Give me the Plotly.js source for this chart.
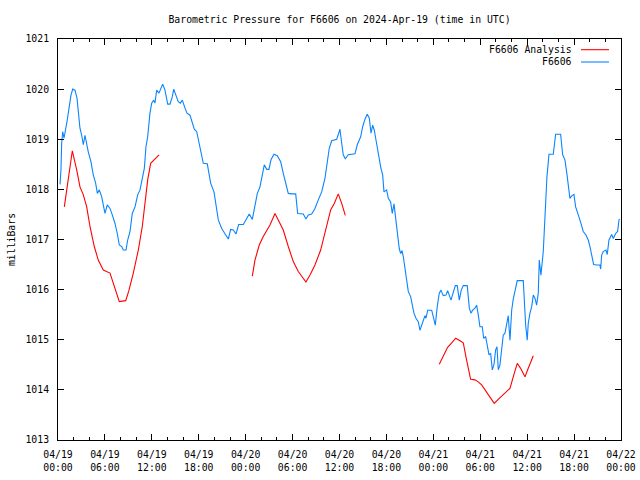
<!DOCTYPE html>
<html>
<head>
<meta charset="utf-8">
<script src="https://cdn.plot.ly/plotly-3.0.1.min.js"></script>
<style>html,body{margin:0;padding:0;background:#fff;}#chart{width:640px;height:480px;}</style>
</head>
<body>
<div id="chart"></div>
<script>
// Hours since 2024-04-19 00:00 UTC
const obsHours = [0.26,0.38,0.47,0.60,0.77,0.90,1.15,1.41,1.66,1.88,2.17,2.43,2.60,2.81,3.03,3.24,3.45,3.67,3.87,4.22,4.51,4.82,5.03,5.28,5.59,5.79,6.01,6.30,6.65,6.94,7.29,7.58,7.84,8.15,8.35,8.70,8.91,9.21,9.50,9.85,10.19,10.49,10.78,11.04,11.25,11.47,11.76,11.98,12.24,12.40,12.62,12.92,13.17,13.39,13.68,14.03,14.32,14.62,14.80,15.05,15.38,15.64,15.90,16.24,16.50,16.88,17.17,17.43,17.74,17.94,18.25,18.58,19.09,19.53,19.95,20.20,20.50,20.93,21.36,21.78,22.08,22.42,22.76,23.11,23.70,24.13,24.46,24.85,25.19,25.49,25.83,26.18,26.38,26.69,26.98,27.24,27.62,28.04,28.48,28.81,29.16,29.45,29.88,30.40,30.65,31.37,31.71,32.01,32.44,32.86,33.29,33.72,34.14,34.44,34.69,35.00,35.64,35.90,36.06,36.28,36.48,36.74,37.12,37.98,38.27,38.71,38.96,39.26,39.55,39.81,40.03,40.24,40.45,40.66,40.88,41.09,41.30,41.52,41.69,42.03,42.24,42.54,42.75,42.97,43.18,43.39,43.64,43.82,43.99,44.16,44.37,44.59,44.80,45.10,45.36,45.52,45.78,46.07,46.29,46.64,46.93,47.06,47.28,47.79,47.99,48.25,48.50,48.76,48.98,49.27,49.62,49.83,50.26,50.55,50.81,51.06,51.32,51.57,51.83,52.34,52.60,52.81,53.03,53.32,53.54,53.75,53.96,54.26,54.44,54.69,54.95,55.12,55.33,55.54,55.75,55.97,56.14,56.31,56.52,56.74,56.94,57.16,57.38,57.58,57.80,58.02,58.22,58.44,58.73,59.50,59.63,59.81,60.01,60.14,60.36,60.58,60.78,61.00,61.21,61.42,61.55,61.76,62.06,62.19,62.37,62.53,62.79,63.34,63.64,64.28,64.54,64.83,65.05,65.26,65.47,65.69,65.98,66.20,66.41,66.62,66.88,67.17,67.52,67.81,68.03,68.25,68.50,68.89,69.31,69.40,69.53,69.73,70.08,70.24,70.46,70.81,71.01,71.32,71.57,71.74,71.83];
const obsPressure = [1018.10,1018.39,1018.92,1019.15,1019.02,1019.12,1019.35,1019.62,1019.88,1020.00,1019.98,1019.82,1019.58,1019.22,1019.08,1018.89,1019.08,1018.89,1018.75,1018.55,1018.29,1018.12,1017.92,1017.99,1017.85,1017.69,1017.52,1017.69,1017.62,1017.49,1017.32,1017.12,1016.89,1016.86,1016.79,1016.79,1016.99,1017.16,1017.52,1017.65,1017.89,1017.99,1018.19,1018.42,1018.85,1019.05,1019.52,1019.72,1019.78,1019.72,1019.98,1019.92,1020.02,1020.10,1019.98,1019.70,1019.70,1019.85,1020.00,1019.90,1019.75,1019.72,1019.78,1019.62,1019.52,1019.48,1019.35,1019.20,1019.15,1019.00,1018.75,1018.52,1018.51,1018.12,1017.95,1017.65,1017.39,1017.22,1017.12,1017.01,1017.20,1017.19,1017.11,1017.30,1017.30,1017.42,1017.51,1017.40,1017.69,1017.92,1018.05,1018.32,1018.49,1018.40,1018.40,1018.59,1018.70,1018.67,1018.55,1018.32,1018.12,1017.92,1017.91,1017.91,1017.52,1017.51,1017.41,1017.49,1017.51,1017.62,1017.79,1017.95,1018.22,1018.52,1018.82,1018.97,1019.00,1019.12,1019.20,1018.92,1018.69,1018.61,1018.69,1018.71,1018.89,1019.05,1019.25,1019.40,1019.50,1019.42,1019.12,1019.28,1019.18,1018.99,1018.79,1018.55,1018.42,1018.29,1017.95,1017.99,1017.82,1017.75,1017.52,1017.71,1017.42,1017.09,1016.82,1016.72,1016.78,1016.66,1016.43,1016.16,1015.96,1015.86,1015.69,1015.53,1015.43,1015.36,1015.19,1015.33,1015.48,1015.43,1015.59,1015.59,1015.43,1015.29,1015.66,1015.93,1015.99,1015.88,1015.89,1015.98,1015.79,1015.96,1016.08,1016.08,1015.79,1015.99,1016.08,1016.08,1015.63,1015.53,1015.59,1015.63,1015.69,1015.49,1015.26,1015.26,1015.03,1015.06,1014.80,1014.70,1014.73,1014.40,1014.50,1014.80,1014.86,1014.40,1014.50,1014.90,1015.09,1015.13,1015.29,1015.48,1014.99,1015.59,1015.81,1015.99,1016.18,1016.18,1015.76,1015.29,1014.99,1015.33,1015.53,1015.66,1015.89,1015.83,1015.69,1015.93,1016.59,1016.29,1016.76,1017.12,1017.72,1018.25,1018.70,1018.70,1019.10,1019.10,1018.69,1018.59,1018.35,1018.12,1017.82,1017.87,1017.90,1017.65,1017.52,1017.45,1017.32,1017.16,1017.09,1016.99,1016.86,1016.72,1016.50,1016.49,1016.49,1016.41,1016.69,1016.76,1016.79,1016.70,1016.99,1017.10,1017.02,1017.12,1017.16,1017.39,1017.41];

// Analysis series (null = gap between runs)
const anaHours = [0.81,1.11,1.41,1.83,2.39,2.81,3.24,3.67,4.09,4.64,5.15,5.79,6.65,7.07,7.51,7.84,8.66,9.08,9.63,10.27,10.78,11.13,11.47,11.85,12.40,12.92,
  18.0,
  24.85,25.19,25.74,26.25,27.11,27.75,28.17,28.81,29.45,30.09,30.73,31.71,32.23,32.86,33.59,34.27,34.87,35.33,35.84,36.28,36.74,
  42.0,
  48.76,49.27,49.83,50.35,50.86,51.41,51.83,52.17,52.47,52.77,53.32,53.75,54.18,54.82,55.24,55.79,56.43,57.16,57.80,58.22,58.73,59.16,59.72,60.14,60.78];
const anaPressure = [1017.65,1017.99,1018.32,1018.77,1018.39,1018.05,1017.89,1017.65,1017.26,1016.86,1016.59,1016.39,1016.33,1016.13,1015.93,1015.76,1015.78,1015.99,1016.33,1016.79,1017.26,1017.72,1018.19,1018.52,1018.60,1018.69,
  null,
  1016.27,1016.59,1016.89,1017.06,1017.29,1017.52,1017.39,1017.19,1016.86,1016.56,1016.36,1016.15,1016.29,1016.49,1016.79,1017.22,1017.59,1017.72,1017.91,1017.72,1017.48,
  null,
  1014.51,1014.68,1014.85,1014.94,1015.03,1014.98,1014.94,1014.66,1014.40,1014.21,1014.20,1014.16,1014.10,1013.96,1013.86,1013.73,1013.83,1013.93,1014.03,1014.26,1014.53,1014.43,1014.26,1014.43,1014.68];

const tickHours = [0,6,12,18,24,30,36,42,48,54,60,66,72];
const tickLabels = ["04/19<br>00:00","04/19<br>06:00","04/19<br>12:00","04/19<br>18:00","04/20<br>00:00","04/20<br>06:00","04/20<br>12:00","04/20<br>18:00","04/21<br>00:00","04/21<br>06:00","04/21<br>12:00","04/21<br>18:00","04/22<br>00:00"];
const seriesNames = ["F6606 Analysis","F6606"];
const seriesColors = ["#ff0000","#0a84ff"];

const FONT = {family: "DejaVu Sans Mono, Liberation Mono, monospace", size: 9.8, color: "#000"};

const traces = [
  {x: anaHours, y: anaPressure, name: seriesNames[0], type: "scatter", mode: "lines",
   line: {color: seriesColors[0], width: 1.1}, connectgaps: false, hoverinfo: "skip"},
  {x: obsHours, y: obsPressure, name: seriesNames[1], type: "scatter", mode: "lines",
   line: {color: seriesColors[1], width: 1.1}, hoverinfo: "skip"}
];

const layout = {
  width: 640, height: 480,
  margin: {l: 58, r: 19, t: 39, b: 40, pad: 0},
  paper_bgcolor: "#fff", plot_bgcolor: "#fff",
  font: FONT,
  showlegend: false,
  title: {text: "Barometric Pressure for F6606 on 2024-Apr-19 (time in UTC)", font: FONT,
          xref: "paper", x: 0.5, xanchor: "center", yref: "container", y: 1 - 20/480, yanchor: "middle"},
  xaxis: {
    type: "linear", range: [0, 72], autorange: false,
    tickmode: "array", tickvals: tickHours, ticktext: tickLabels,
    ticks: "inside", ticklen: 6, tickwidth: 1, tickcolor: "#000",
    showline: true, linecolor: "#000", linewidth: 1, mirror: "allticks",
    showgrid: false, zeroline: false, tickfont: FONT, ticklabelstandoff: 5,
    minor: {tickmode: "linear", tick0: 0, dtick: 2, ticks: "inside", ticklen: 3, tickcolor: "#000", showgrid: false}
  },
  yaxis: {
    range: [1013, 1021], autorange: false, dtick: 1, tick0: 1013,
    ticks: "inside", ticklen: 6, tickwidth: 1, tickcolor: "#000",
    showline: true, linecolor: "#000", linewidth: 1, mirror: "allticks",
    showgrid: false, zeroline: false, tickfont: FONT, ticklabelstandoff: 6,
    title: {text: "milliBars", font: FONT, standoff: 8}
  },
  annotations: [
    {xref: "paper", yref: "paper", x: (574-58)/563, y: (440-49.7)/401, xanchor: "right", yanchor: "middle",
     text: seriesNames[0], showarrow: false, font: FONT},
    {xref: "paper", yref: "paper", x: (574-58)/563, y: (440-62)/401, xanchor: "right", yanchor: "middle",
     text: seriesNames[1], showarrow: false, font: FONT}
  ],
  shapes: [
    {type: "line", xref: "paper", yref: "paper", x0: (581-58)/563, x1: (609-58)/563,
     y0: (440-49.7)/401, y1: (440-49.7)/401, line: {color: seriesColors[0], width: 1.1}},
    {type: "line", xref: "paper", yref: "paper", x0: (581-58)/563, x1: (609-58)/563,
     y0: (440-62)/401, y1: (440-62)/401, line: {color: seriesColors[1], width: 1.1}}
  ]
};

Plotly.newPlot("chart", traces, layout, {staticPlot: true, displayModeBar: false});
</script>
</body>
</html>
